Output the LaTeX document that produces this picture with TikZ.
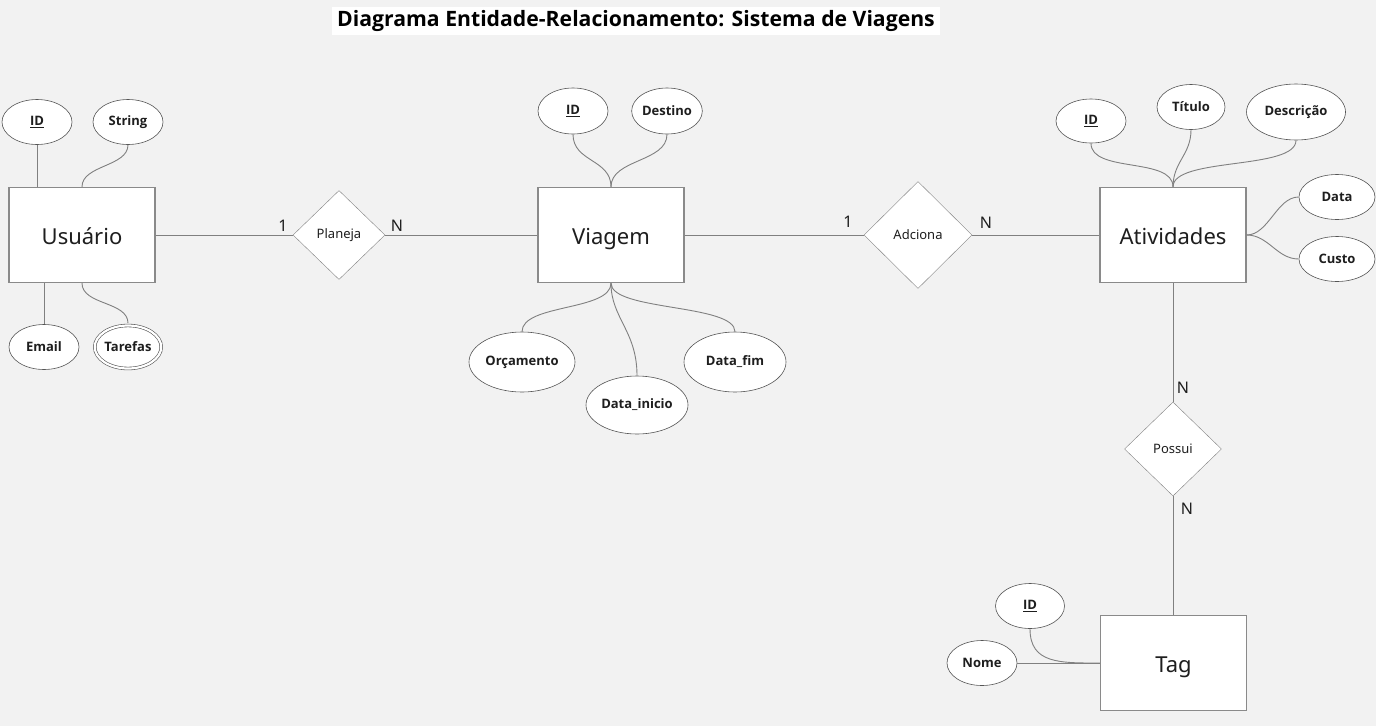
\documentclass[tikz,border=0pt]{standalone}
\usepackage{fontspec}
\setmainfont{Noto Sans}
\newfontfamily\obf{Open Sans}
\usetikzlibrary{shapes.geometric,calc}
\definecolor{bg}{HTML}{F2F2F2}
\definecolor{ln}{HTML}{808080}
\definecolor{bd}{HTML}{8A8A8A}
\definecolor{ed}{HTML}{555555}
\definecolor{txt}{HTML}{1E1E1E}
\begin{document}
\begin{tikzpicture}[x=1pt,y=-1pt,
  ent/.style={draw=bd, line width=1.3pt, fill=white, minimum width=146pt, minimum height=95pt, inner sep=0pt, text height=21.5pt, text depth=2pt, text=txt, font=\fontsize{22}{26}\selectfont},
  rel/.style={diamond, draw=ln, fill=white, inner sep=0pt, text=txt, font=\fontsize{13}{15}\selectfont},
  attr/.style={ellipse, draw=ed, line width=0.6pt, fill=white, inner sep=0pt, minimum width=70pt, minimum height=45pt, text=txt, font=\obf\bfseries\fontsize{13}{15}\selectfont},
  card/.style={text=txt, font=\fontsize{16}{18}\selectfont, inner sep=0pt},
  conn/.style={draw=ln, line width=0.9pt}
]
\fill[bg] (0,0) rectangle (1376,726);
\node[fill=white, inner xsep=5pt, inner ysep=3pt, text=black, font=\obf\bfseries\fontsize{21.2}{25}\selectfont] (title) at (636,21) {Diagrama Entidade-Relacionamento: Sistema de Viagens};

% entities
\node[ent] (u) at (82,235) {Usuário};
\node[ent] (v) at (611,235) {Viagem};
\node[ent] (a) at (1173,235) {Atividades};
\node[ent] (t) at (1173.5,663) {Tag};

% relationships
\node[rel, minimum width=92pt, minimum height=89pt] (pl) at (339,235) {Planeja};
\node[rel, minimum width=108pt, minimum height=107pt] (ad) at (918,235) {Adciona};
\node[rel, minimum width=97pt, minimum height=94pt] (po) at (1173,449) {Possui};

% connectors between entities and relationships
\draw[conn] (u) -- (pl);
\draw[conn] (pl) -- (v);
\draw[conn] (v) -- (ad);
\draw[conn] (ad) -- (a);
\draw[conn] (a) -- (po);
\draw[conn] (po) -- (t.north -| po.south);

% cardinalities
\node[card] (c1) at (283,226) {1};
\node[card] (c2) at (397,226) {N};
\node[card] (c3) at (848,222) {1};
\node[card] (c4) at (986,223) {N};
\node[card] (c5) at (1183,388) {N};
\node[card] (c6) at (1187,509) {N};

% Usuario attributes
\node[attr] (uid) at (37,122) {\underline{ID}};
\node[attr] (ustr) at (128,122) {String};
\node[attr] (uem) at (44,347) {Email};
\node[attr, minimum width=66pt, minimum height=43pt, double=white, double distance=2.2pt] (utar) at (128,347) {Tarefas};
\draw[conn] (uid.south) -- (uid.south |- u.north);
\draw[conn] (ustr.south) .. controls +(0,22) and +(0,-22) .. (u.north);
\draw[conn] (uem.north) -- (uem.north |- u.south);
\draw[conn] (u.south) .. controls +(0,22) and +(0,-22) .. ($(utar.north)+(0,-2)$);

% Viagem attributes
\node[attr, minimum height=46pt] (vid) at (573,111) {\underline{ID}};
\node[attr, minimum height=46pt] (vde) at (667,111) {Destino};
\node[attr, minimum width=106pt, minimum height=60pt] (vor) at (522,362) {Orçamento};
\node[attr, minimum width=102pt, minimum height=58pt] (vdi) at (637,405) {Data\_inicio};
\node[attr, minimum width=102pt, minimum height=60pt] (vdf) at (735,362) {Data\_fim};
\draw[conn] (vid.south) .. controls +(0,28) and +(0,-28) .. (v.north);
\draw[conn] (vde.south) .. controls +(0,28) and +(0,-28) .. (v.north);
\draw[conn] (v.south) .. controls +(0,28) and +(0,-28) .. (vor.north);
\draw[conn] (v.south) .. controls +(0,35) and +(0,-45) .. (vdi.north);
\draw[conn] (v.south) .. controls +(0,28) and +(0,-28) .. (vdf.north);

% Atividades attributes
\node[attr, minimum height=44pt] (aid) at (1091,121) {\underline{ID}};
\node[attr, minimum width=68pt] (ati) at (1191,107) {Título};
\node[attr, minimum width=99pt, minimum height=56pt] (ade) at (1296,112) {Descrição};
\node[attr, minimum width=76pt] (ada) at (1337,197) {Data};
\node[attr, minimum width=76pt] (acu) at (1337,259) {Custo};
\draw[conn] (aid.south) .. controls +(0,30) and +(0,-30) .. (a.north);
\draw[conn] (ati.south) .. controls +(0,25) and +(0,-25) .. (a.north);
\draw[conn] (ade.south) .. controls +(0,30) and +(0,-30) .. (a.north);
\draw[conn] (a.east) .. controls +(22,0) and +(-22,0) .. (ada.west);
\draw[conn] (a.east) .. controls +(22,0) and +(-22,0) .. (acu.west);

% Tag attributes
\node[attr, minimum width=69pt] (tid) at (1030,606) {\underline{ID}};
\node[attr] (tno) at (982,663) {Nome};
\draw[conn] (tno.east) -- (t.west);
\draw[conn] (tid.south) .. controls +(0,35) and +(-40,0) .. (t.west);
\end{tikzpicture}
\end{document}
